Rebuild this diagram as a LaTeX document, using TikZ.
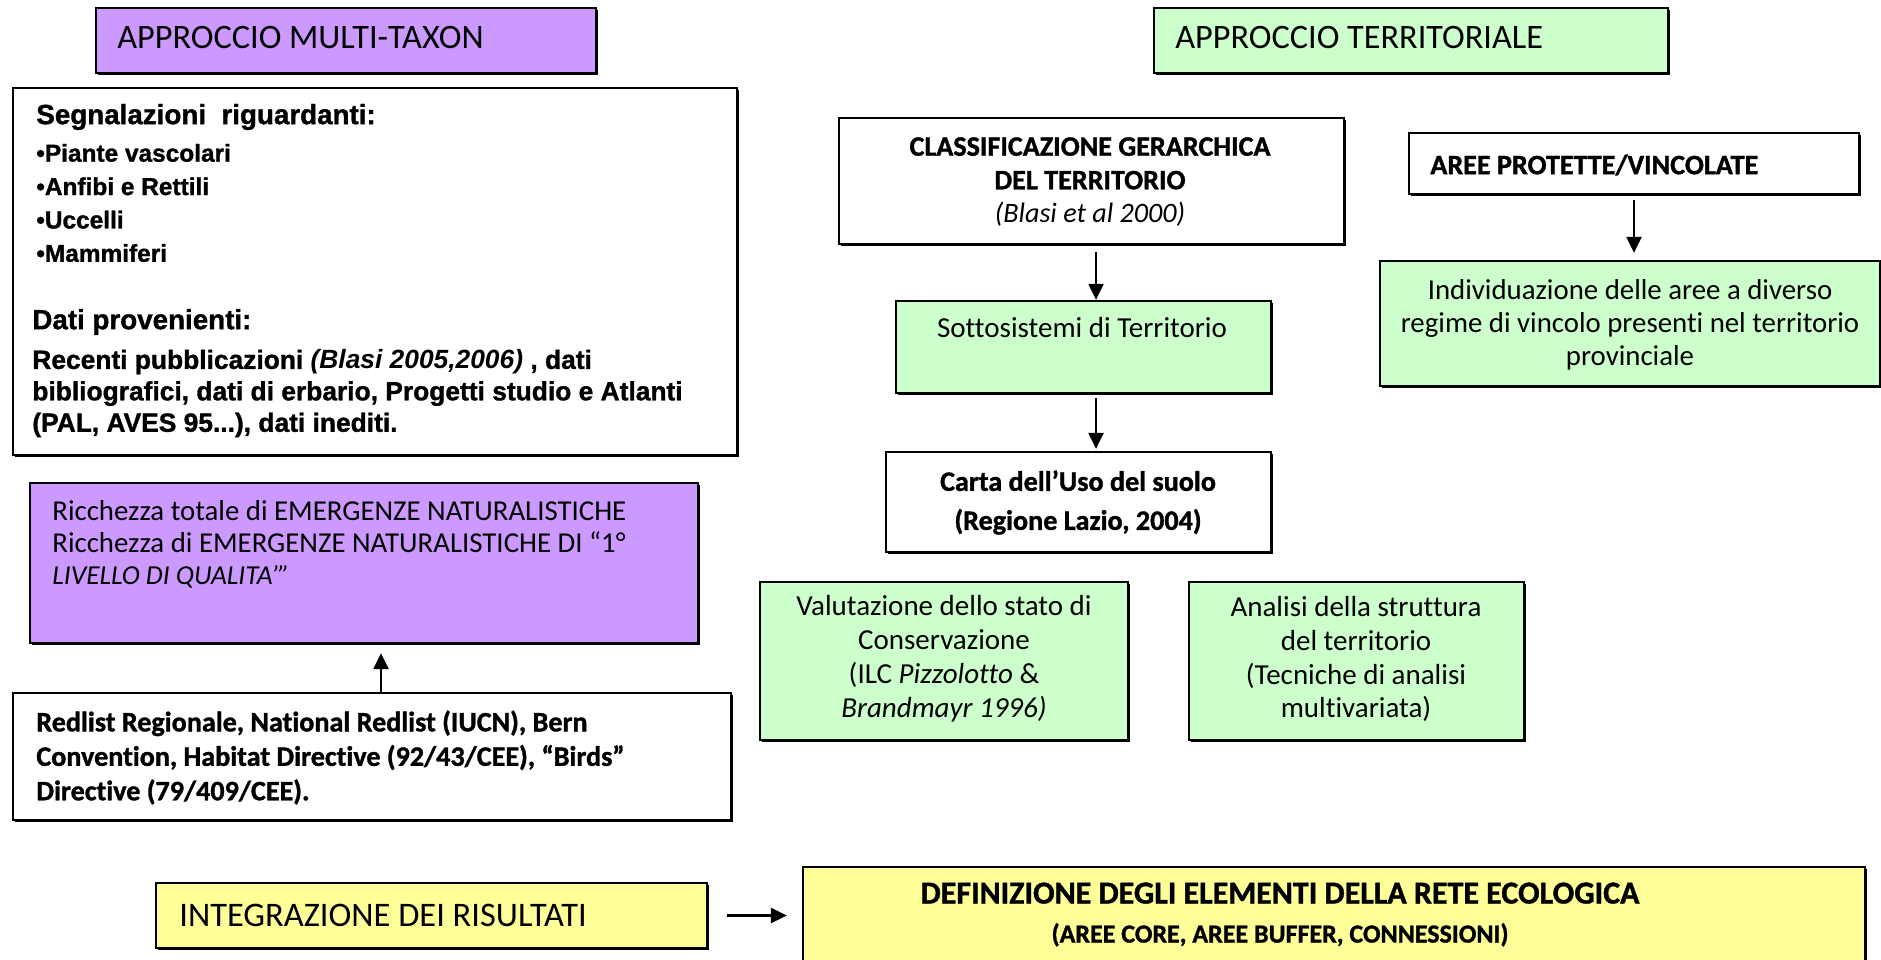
\documentclass[tikz,border=0pt]{standalone}
\usepackage{fontspec}
\setmainfont{Carlito}[Ligatures=NoCommon, BoldFeatures={FakeBold=1.2}]
\newfontfamily\arialfont{Liberation Sans}[BoldFeatures={FakeBold=1.2}]
\usetikzlibrary{arrows.meta, fit, shadows}
\definecolor{lilla}{HTML}{CC99FF}
\definecolor{verde}{HTML}{CCFFCC}
\definecolor{giallo}{HTML}{FFFF99}
\newcommand\setfs[2]{\fontsize{#1}{#2}\selectfont}

\tikzset{
  box/.style={draw, line width=1.3pt, inner sep=0pt,
    drop shadow={shadow xshift=0.04cm, shadow yshift=-0.04cm, fill=black, opacity=1}},
  ltxt/.style={inner sep=0pt, align=left, anchor=west},
  ctxt/.style={inner sep=0pt, align=center},
  arr/.style={line width=1.3pt, -{Triangle[length=0.32cm, width=0.3cm]}},
}

\begin{document}
\begin{tikzpicture}
\useasboundingbox (0,0) rectangle (37.62,-19.2);
\clip (0,0) rectangle (37.62,-19.2);

% approccio multi-taxon
\node[box, fill=lilla, fit={(1.92,-0.16) (11.92,-1.46)}] (mt) {};
\node[ltxt, font=\setfs{19.5}{22}] (mtT) at (2.34,-0.75) {APPROCCIO MULTI-TAXON};

\node[box, fill=white, fit={(0.26,-1.76) (14.74,-9.10)}] (sig) {};
\node[ltxt, font=\arialfont\bfseries\setfs{15.8}{18}] (sigA) at (0.72,-2.34) {Segnalazioni\ \ riguardanti:};
\node[ltxt, font=\arialfont\bfseries\setfs{13.9}{19}] (sigB) at (0.72,-4.06)
  {•Piante vascolari\\•Anfibi e Rettili\\•Uccelli\\•Mammiferi};
\node[ltxt, font=\arialfont\bfseries\setfs{15.8}{18}] (sigC) at (0.64,-6.44) {Dati provenienti:};
\node[ltxt, font=\arialfont\bfseries\setfs{15}{17.9}] (sigD) at (0.64,-7.87)
  {Recenti pubblicazioni \textit{(Blasi 2005,2006)} , dati\\
   bibliografici, dati di erbario, Progetti studio e Atlanti\\
   (PAL, AVES 95...), dati inediti.};

\node[box, fill=lilla, fit={(0.60,-9.66) (13.96,-12.86)}] (rich) {};
\node[ltxt, font=\setfs{16.4}{18.2}] (richT) at (1.04,-10.88)
  {Ricchezza totale di EMERGENZE NATURALISTICHE\\
   Ricchezza di EMERGENZE NATURALISTICHE DI “1°\\
   {\itshape\setfs{15.6}{18.2}LIVELLO DI QUALITA’”}};

\node[box, fill=white, fit={(0.26,-13.86) (14.62,-16.40)}] (red) {};
\node[ltxt, font=\bfseries\setfs{16}{19.6}] (redT) at (0.72,-15.15)
  {Redlist Regionale, National Redlist (IUCN), Bern\\
   Convention, Habitat Directive (92/43/CEE), “Birds”\\
   Directive (79/409/CEE).};

\coordinate (ux) at ([xshift=0.18cm]red.north);
\draw[arr, shorten >=0.18cm] (ux) -- (ux |- rich.south);

% approccio territoriale
\node[box, fill=verde, fit={(23.08,-0.16) (33.36,-1.46)}] (ter) {};
\node[ltxt, font=\setfs{19.5}{22}] (terT) at (23.50,-0.75) {APPROCCIO TERRITORIALE};

\node[box, fill=white, fit={(16.78,-2.36) (26.88,-4.88)}] (cls) {};
\node[ctxt, font=\bfseries\setfs{16}{19.1}] (clsT) at (21.80,-3.64)
  {CLASSIFICAZIONE GERARCHICA\\DEL TERRITORIO\\{\mdseries\itshape (Blasi et al 2000)}};

\node[box, fill=verde, fit={(17.92,-6.02) (25.42,-7.86)}] (sub) {};
\node[ctxt, font=\setfs{16.5}{18.8}] (subT) at (21.64,-6.56) {Sottosistemi di Territorio};

\node[box, fill=white, fit={(17.72,-9.04) (25.42,-11.04)}] (carta) {};
\node[ctxt, font=\bfseries\setfs{16}{22.2}] (cartaT) at (21.56,-10.05)
  {Carta dell’Uso del suolo\\(Regione Lazio, 2004)};

\coordinate (ax) at ([xshift=0.09cm]cls.south);
\draw[arr, shorten <=0.14cm] (ax) -- (ax |- sub.north);
\draw[arr, shorten <=0.08cm, shorten >=0.04cm] (ax |- sub.south) -- (ax |- carta.north);

\node[box, fill=white, fit={(28.18,-2.66) (37.18,-3.88)}] (aree) {};
\node[ltxt, font=\bfseries\setfs{16}{18}] (areeT) at (28.60,-3.30) {AREE PROTETTE/VINCOLATE};

\node[box, fill=verde, fit={(27.60,-5.22) (37.60,-7.72)}] (indiv) {};
\node[ctxt, font=\setfs{16.4}{18.8}] (indivT) at (32.60,-6.50)
  {Individuazione delle aree a diverso\\regime di vincolo presenti nel territorio\\provinciale};

\draw[arr, shorten <=0.1cm, shorten >=0.14cm] (aree.south) -- (aree.south |- indiv.north);

\node[box, fill=verde, fit={(15.20,-11.64) (22.56,-14.80)}] (val) {};
\node[ctxt, font=\setfs{16.5}{19.3}] (valT) at (18.88,-13.18)
  {Valutazione dello stato di\\Conservazione\\(ILC \textit{Pizzolotto} \&\\\textit{Brandmayr 1996)}};

\node[box, fill=verde, fit={(23.78,-11.64) (30.48,-14.80)}] (ana) {};
\node[ctxt, font=\setfs{16.5}{19.3}] (anaT) at (27.12,-13.18)
  {Analisi della struttura\\del territorio\\(Tecniche di analisi\\multivariata)};

% integrazione
\node[box, fill=giallo, fit={(3.12,-17.66) (14.14,-18.96)}] (integ) {};
\node[ltxt, font=\setfs{19.6}{22}] (integT) at (3.58,-18.30) {INTEGRAZIONE DEI RISULTATI};

\node[box, fill=giallo, fit={(16.06,-17.34) (37.30,-19.80)}] (defn) {};
\node[ctxt, font=\bfseries\setfs{18.2}{22.2}] (defnT) at (25.60,-18.29)
  {DEFINIZIONE DEGLI ELEMENTI DELLA RETE ECOLOGICA\\
   {\setfs{14.8}{22.2}(AREE CORE, AREE BUFFER, CONNESSIONI)}};

\draw[arr, shorten <=0.38cm, shorten >=0.3cm] (integ.east) -- (integ.east -| defn.west);
\end{tikzpicture}
\end{document}
